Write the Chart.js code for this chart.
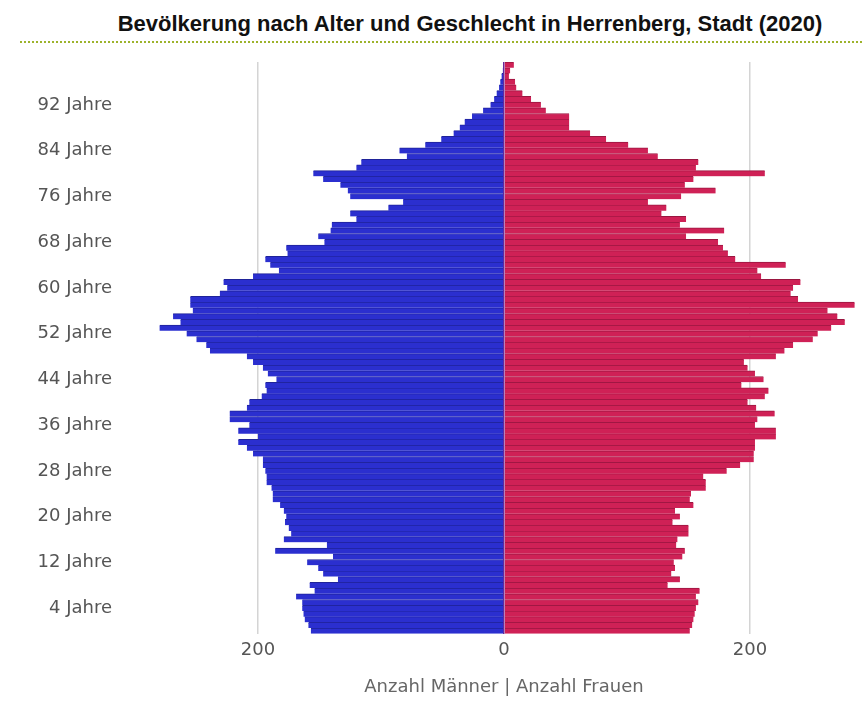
<!DOCTYPE html>
<html>
<head>
<meta charset="utf-8">
<script src="https://cdn.jsdelivr.net/npm/chart.js@4.4.1/dist/chart.umd.min.js"></script>
<style>
  body { margin: 0; background: #fff; }
  #kopf {
    position: absolute; left: 20px; top: 0; width: 842px; height: 43px;
    border-bottom: 2px dotted #9db32c;
    font: bold 22px "Liberation Sans", Arial, sans-serif; color: #111;
    text-align: center; line-height: 48px; padding-left: 58px; box-sizing: border-box;
  }
  #wrap { position: absolute; left: 0; top: 45px; }
</style>
</head>
<body>
<div id="kopf">Bevölkerung nach Alter und Geschlecht in Herrenberg, Stadt (2020)</div>
<div id="wrap"><canvas id="pyramide" width="864" height="669"></canvas></div>
<script>
// Altersjahre 0..99 (unten nach oben)
const alter = [
  0, 1, 2, 3, 4, 5, 6, 7, 8, 9,
  10, 11, 12, 13, 14, 15, 16, 17, 18, 19,
  20, 21, 22, 23, 24, 25, 26, 27, 28, 29,
  30, 31, 32, 33, 34, 35, 36, 37, 38, 39,
  40, 41, 42, 43, 44, 45, 46, 47, 48, 49,
  50, 51, 52, 53, 54, 55, 56, 57, 58, 59,
  60, 61, 62, 63, 64, 65, 66, 67, 68, 69,
  70, 71, 72, 73, 74, 75, 76, 77, 78, 79,
  80, 81, 82, 83, 84, 85, 86, 87, 88, 89,
  90, 91, 92, 93, 94, 95, 96, 97, 98, 99
];

// Anzahl Männer je Alter
const maenner = [
  157, 159, 162, 163, 164, 164, 169, 154, 158, 135,
  147, 151, 160, 139, 186, 144, 179, 173, 175, 178,
  177, 179, 182, 188, 188, 189, 193, 193, 194, 196,
  196, 204, 209, 216, 200, 216, 207, 223, 223, 209,
  207, 197, 193, 194, 185, 192, 196, 204, 209, 239,
  242, 250, 258, 280, 263, 269, 253, 255, 255, 231,
  225, 228, 204, 183, 190, 194, 176, 177, 146, 151,
  141, 140, 120, 125, 94, 82, 125, 127, 133, 147,
  155, 120, 116, 79, 85, 64, 51, 41, 36, 32,
  26, 17, 11, 8, 6, 4, 3, 2, 1, 0
];

// Anzahl Frauen je Alter
const frauen = [
  151, 153, 154, 155, 156, 158, 156, 159, 133, 143,
  136, 139, 138, 145, 147, 140, 141, 150, 150, 137,
  143, 139, 154, 151, 152, 164, 164, 162, 181, 192,
  203, 203, 204, 204, 221, 221, 204, 206, 220, 205,
  198, 212, 215, 193, 211, 204, 198, 195, 221, 228,
  235, 251, 255, 266, 277, 271, 263, 285, 239, 233,
  235, 241, 209, 206, 229, 188, 182, 178, 174, 148,
  179, 143, 148, 128, 132, 117, 144, 172, 147, 154,
  212, 156, 158, 125, 117, 101, 83, 70, 53, 53,
  53, 34, 30, 22, 15, 10, 9, 4, 5, 8
];

// x-Achse: nur diese Ticks
const xTicks = [-200, 0, 200];

const textFont = { family: '"DejaVu Sans", Verdana, sans-serif', size: 18 };

new Chart(document.getElementById('pyramide').getContext('2d'), {
  type: 'bar',
  data: {
    labels: alter,
    datasets: [
      {
        label: 'Männer',
        data: maenner.map(v => -v),
        backgroundColor: '#2b2fcf',
        borderColor: '#1f2399',
        borderWidth: { top: 1, bottom: 0, left: 0, right: 0 },
        borderSkipped: false,
        barPercentage: 1,
        categoryPercentage: 1
      },
      {
        label: 'Frauen',
        data: frauen,
        backgroundColor: '#cf2156',
        borderColor: '#9a1640',
        borderWidth: { top: 1, bottom: 0, left: 0, right: 0 },
        borderSkipped: false,
        barPercentage: 1,
        categoryPercentage: 1
      }
    ]
  },
  options: {
    indexAxis: 'y',
    responsive: false,
    animation: false,
    layout: { padding: { top: 17, right: 2, bottom: 12, left: 0 } },
    plugins: {
      legend: { display: false },
      tooltip: { enabled: false }
    },
    scales: {
      x: {
        stacked: true,
        min: -291,
        max: 291,
        afterBuildTicks: (axis) => { axis.ticks = xTicks.map(v => ({ value: v })); },
        grid: {
          // Nulllinie liegt unter den Balken und schließt die Kantenlücke
          color: (ctx) => ctx.tick && ctx.tick.value === 0 ? '#6a2a9a' : '#d4d4d4',
          drawTicks: false,
          lineWidth: 1.5
        },
        border: { display: false },
        ticks: {
          padding: 6,
          color: '#555',
          font: textFont,
          callback: (v) => Math.abs(v)
        },
        title: {
          display: true,
          text: 'Anzahl Männer | Anzahl Frauen',
          color: '#666',
          font: textFont,
          padding: { top: 9, bottom: 4 }
        }
      },
      y: {
        stacked: true,
        reverse: true,
        afterFit: (axis) => {
          axis.width = 146;
          axis.paddingTop = 0;
          axis.paddingBottom = 0;
        },
        grid: { display: false, drawTicks: false },
        border: { display: false },
        ticks: {
          autoSkip: false,
          padding: 34,
          color: '#555',
          font: textFont,
          callback: function (value) {
            const a = alter[value];
            return a % 8 === 4 ? a + ' Jahre' : '';
          }
        }
      }
    }
  }
});
</script>
</body>
</html>
